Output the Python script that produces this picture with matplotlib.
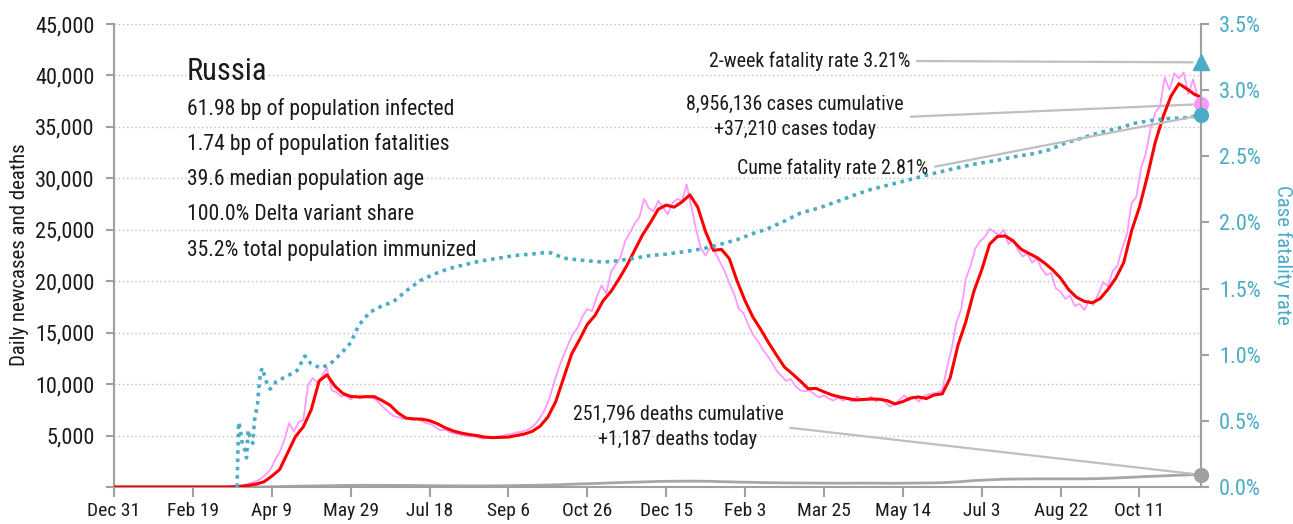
import pandas as pd
import matplotlib
matplotlib.use("Agg")
import matplotlib.pyplot as plt
from matplotlib.ticker import FuncFormatter, MultipleLocator

plt.rcParams['font.family'] = ['Liberation Sans Narrow', 'Roboto Condensed',
                               'DejaVu Sans']
plt.rcParams['font.stretch'] = 'condensed'

W, H = 1293, 524
start = pd.Timestamp("2019-12-31")

# 7-day average of new cases (sampled every 5 days)
avg_days = [0] + list(range(60, 686, 5)) + [689]
avg_cases = [0,
    0, 0, 0, 20, 60, 150, 280, 500, 1050, 1700,
    3300, 4900, 5850, 7500, 10300, 10900, 9800, 9100, 8800, 8750,
    8780, 8780, 8400, 7950, 7200, 6700, 6620, 6600, 6450, 6150,
    5750, 5450, 5250, 5100, 5000, 4850, 4800, 4820, 4850, 5000,
    5150, 5400, 5900, 6800, 8300, 10600, 12900, 14300, 15800, 16700,
    18100, 19000, 20200, 21500, 23000, 24500, 25700, 27000, 27400, 27200,
    27700, 28400, 27200, 24800, 23000, 23100, 22200, 20000, 18100, 16500,
    15300, 14000, 12800, 11650, 11000, 10300, 9550, 9580, 9250, 8950,
    8750, 8600, 8460, 8500, 8550, 8530, 8400, 8070, 8300, 8650,
    8750, 8600, 8950, 9050, 10600, 13800, 16100, 19000, 21100, 23600,
    24350, 24400, 23900, 23100, 22700, 22300, 21750, 21100, 20300, 19200,
    18450, 18050, 17900, 18300, 19200, 20300, 21800, 24900, 27200, 30200,
    33500, 36000, 38000, 39200, 38700, 38150,
    37900]

# daily new cases (every 3 days)
daily_days = [0] + list(range(60, 688, 3)) + [689]
daily_cases = [0,
    0, 0, 0, 10, 20, 40, 90, 160, 250, 400,
    560, 800, 1200, 1650, 2600, 3400, 4600, 6200, 5400, 6300,
    6500, 9900, 10600, 10100, 10800, 11600, 9400, 9200, 8800, 8900,
    8500, 8900, 8600, 8800, 8700, 8600, 8200, 7700, 7300, 6900,
    6800, 6600, 6700, 6500, 6600, 6400, 6200, 6100, 5800, 5500,
    5600, 5300, 5200, 5100, 5000, 4900, 4950, 4800, 4700, 4850,
    4750, 4900, 4950, 5100, 5150, 5300, 5350, 5500, 5700, 6100,
    6700, 7500, 8600, 10200, 11600, 12800, 13900, 14900, 15500, 16600,
    17300, 17100, 18500, 19600, 18800, 20900, 21600, 22300, 23900, 24700,
    25600, 26200, 28000, 27100, 26800, 27800, 27200, 26500, 27600, 28000,
    27800, 29400, 27200, 25000, 23200, 22500, 23300, 22800, 21900, 21000,
    19800, 18800, 17300, 16900, 15800, 14800, 14200, 13400, 12800, 12100,
    11300, 10800, 10300, 10500, 9800, 9400, 9300, 9400, 9000, 8700,
    8900, 8600, 8400, 8700, 8400, 8600, 8300, 8800, 8400, 8500,
    8800, 8300, 8600, 8200, 7800, 8100, 8500, 8900, 8400, 8800,
    8300, 8800, 9000, 9100, 9200, 9400, 11600, 13500, 16000, 17300,
    20300, 21500, 23200, 23900, 24300, 25100, 24800, 24500, 25000, 23600,
    24100, 23000, 22400, 22700, 21800, 22200, 21200, 20600, 20800, 19300,
    19000, 18300, 18600, 17600, 17800, 17200, 18100, 17700, 18800, 19900,
    19500, 21000, 21500, 23200, 24500, 27600, 28200, 31000, 32400, 34800,
    36400, 37000, 39800, 38600, 40200, 39700, 40300, 38200, 39600, 37800,
    37210]

# daily deaths
death_days = [0, 80, 95, 105, 115, 125, 135, 145, 155, 165, 175, 185, 195, 205,
              215, 225, 235, 245, 255, 265, 275, 285, 295, 305, 315, 325, 335,
              345, 355, 365, 375, 385, 395, 405, 415, 425, 435, 445, 455, 465,
              475, 485, 495, 505, 515, 525, 535, 545, 555, 565, 575, 585, 595,
              605, 615, 625, 635, 645, 655, 665, 675, 685, 689]
deaths = [0, 0, 10, 40, 80, 100, 120, 150, 170, 170, 160, 150, 140, 120,
          115, 110, 110, 120, 140, 170, 190, 240, 300, 340, 400, 450, 490,
          540, 560, 570, 560, 520, 480, 450, 420, 400, 390, 380, 370, 370,
          380, 370, 360, 380, 390, 420, 500, 620, 700, 760, 780, 790, 790,
          790, 790, 820, 880, 950, 1020, 1080, 1150, 1200, 1187]

# cumulative case fatality rate, %
cfr_days = [78, 79, 80, 81, 82, 83, 84, 85, 86, 87, 88, 89, 91, 92, 93, 94, 95,
            97, 99, 103, 110, 116, 121, 125, 131, 137, 144, 150, 155, 162, 170,
            177, 185, 194, 203, 212, 222, 233, 244, 254, 264, 272, 277, 285,
            292, 300, 310, 319, 330, 340, 350, 362, 373, 383, 395, 406, 414,
            425, 435, 447, 460, 470, 480, 490, 500, 516, 530, 545, 560, 572,
            583, 593, 603, 614, 625, 636, 647, 657, 668, 678, 689]
cfr_pct = [0.0, 0.49, 0.44, 0.35, 0.30, 0.28, 0.22, 0.43, 0.38, 0.35, 0.33,
           0.50, 0.63, 0.78, 0.87, 0.90, 0.86, 0.78, 0.74, 0.80, 0.84, 0.88,
           0.99, 0.93, 0.90, 0.93, 1.01, 1.09, 1.22, 1.32, 1.37, 1.40, 1.48,
           1.56, 1.61, 1.65, 1.68, 1.71, 1.73, 1.75, 1.76, 1.77, 1.77, 1.73,
           1.72, 1.71, 1.70, 1.71, 1.73, 1.75, 1.76, 1.78, 1.80, 1.83, 1.87,
           1.92, 1.95, 2.01, 2.07, 2.11, 2.165, 2.21, 2.25, 2.28, 2.31, 2.36,
           2.40, 2.44, 2.47, 2.50, 2.52, 2.55, 2.60, 2.64, 2.68, 2.71, 2.75,
           2.77, 2.785, 2.79, 2.81]

two_week_cfr = 3.21
total_cases = 8956136
total_deaths = 251796
new_cases = 37210
new_deaths = 1187

stats_title = "Russia"
stats_lines = ["61.98 bp of population infected",
               "1.74 bp of population fatalities",
               "39.6 median population age",
               "100.0% Delta variant share",
               "35.2% total population immunized"]

RED = "#FF0000"
PINK = "#FF99FF"
TEAL = "#4BACC6"
GREY = "#A6A6A6"
SPINE = "#A0A0A0"
TXT = "#1A1A1A"


def to_dates(days):
    return start + pd.to_timedelta(days, unit="D")


fig = plt.figure(figsize=(W / 100, H / 100), dpi=100)
ax = fig.add_axes([114 / W, 1 - 487 / H, (1201 - 114) / W, (487 - 24) / H])
ax2 = ax.twinx()

end = to_dates([689])[0]
ax.set_xlim(start, end)
ax.set_ylim(0, 45000)
ax2.set_ylim(0, 3.5)

# gridlines
for v in range(5000, 45001, 5000):
    ax.axhline(v, color="#BFBFBF", lw=1, ls=(0, (1, 2)), zorder=0)

ax.plot(to_dates(death_days), deaths, color=GREY, lw=2, zorder=2)
ax.plot(to_dates(daily_days), daily_cases, color=PINK, lw=1.3, zorder=3)
ax.plot(to_dates(avg_days), avg_cases, color=RED, lw=2.2, zorder=4)
ax2.plot(to_dates(cfr_days), cfr_pct, color=TEAL, lw=2.6,
         ls=(0, (1, 1.3)), zorder=2)

ax.plot([end], [new_cases], "o", color=PINK, ms=10, clip_on=False, zorder=6)
ax.plot([end], [new_deaths], "o", color="#A0A0A0", ms=10, clip_on=False, zorder=6)
ax2.plot([end], [cfr_pct[-1]], "o", color=TEAL, ms=10, clip_on=False, zorder=6)
ax2.plot([end], [two_week_cfr], "^", color=TEAL, ms=11, clip_on=False, zorder=6)

# axes styling
for a in (ax, ax2):
    a.spines["top"].set_visible(False)
    for s in ("left", "right", "bottom"):
        a.spines[s].set_color(SPINE)
        a.spines[s].set_linewidth(1.5)
ax.spines["right"].set_visible(False)
ax2.spines["left"].set_visible(False)
ax2.spines["bottom"].set_visible(False)

ticks = pd.date_range(start, periods=14, freq="50D")
ax.set_xticks(ticks)
ax.set_xticklabels([f"{t:%b} {t.day}" for t in ticks])
ax.yaxis.set_major_locator(MultipleLocator(5000))
ax.yaxis.set_major_formatter(FuncFormatter(lambda v, p: "" if v == 0 else f"{v:,.0f}"))
ax2.yaxis.set_major_locator(MultipleLocator(0.5))
ax2.yaxis.set_major_formatter(FuncFormatter(lambda v, p: f"{v:.1f}%"))

ax.tick_params(axis="x", length=7, width=1.5, color=SPINE, labelsize=14,
               labelcolor=TXT, pad=4)
ax.tick_params(axis="y", length=6, width=1.5, color=SPINE, labelsize=16,
               labelcolor=TXT, pad=8)
ax2.tick_params(axis="y", length=6, width=1.5, color=SPINE, labelsize=16,
                labelcolor=TEAL, pad=7)

fig.text(20 / W, 1 - 255 / H, "Daily newcases and deaths", rotation=90,
         ha="center", va="center", fontsize=15, color=TXT)
fig.text(1283 / W, 1 - 255 / H, "Case fatality rate", rotation=270,
         ha="center", va="center", fontsize=15, color=TEAL)

# country block
fig.text(187 / W, 1 - 71 / H, stats_title, ha="left", va="center",
         fontsize=22, color=TXT)
for i, line in enumerate(stats_lines):
    fig.text(187 / W, 1 - (109 + 35.3 * i) / H, line, ha="left", va="center",
             fontsize=15.6, color=TXT)

# callouts
arrow = dict(arrowstyle="-", color="#BFBFBF", lw=1.6, shrinkA=3, shrinkB=6,
             relpos=(1, 0.5))
ax2.annotate(f"2-week fatality rate {two_week_cfr:.2f}%", xy=(end, two_week_cfr),
             xytext=(910, H - 61), textcoords="figure pixels", ha="right",
             va="center", fontsize=14.3, color=TXT, arrowprops=arrow)
ax.annotate(f"{total_cases:,} cases cumulative\n+{new_cases:,} cases today",
            xy=(end, new_cases), xytext=(795, H - 117),
            textcoords="figure pixels", ha="center", va="center",
            multialignment="center", fontsize=14.3, color=TXT,
            linespacing=1.35, arrowprops=arrow)
ax2.annotate(f"Cume fatality rate {cfr_pct[-1]:.2f}%", xy=(end, cfr_pct[-1]),
             xytext=(928, H - 168), textcoords="figure pixels", ha="right",
             va="center", fontsize=14.3, color=TXT, arrowprops=arrow)
ax.annotate(f"{total_deaths:,} deaths cumulative\n+{new_deaths:,} deaths today",
            xy=(end, new_deaths), xytext=(678, H - 427),
            textcoords="figure pixels", ha="center", va="center",
            multialignment="center", fontsize=14.3, color=TXT,
            linespacing=1.35, arrowprops=arrow)

fig.savefig("out.png", dpi=100)
